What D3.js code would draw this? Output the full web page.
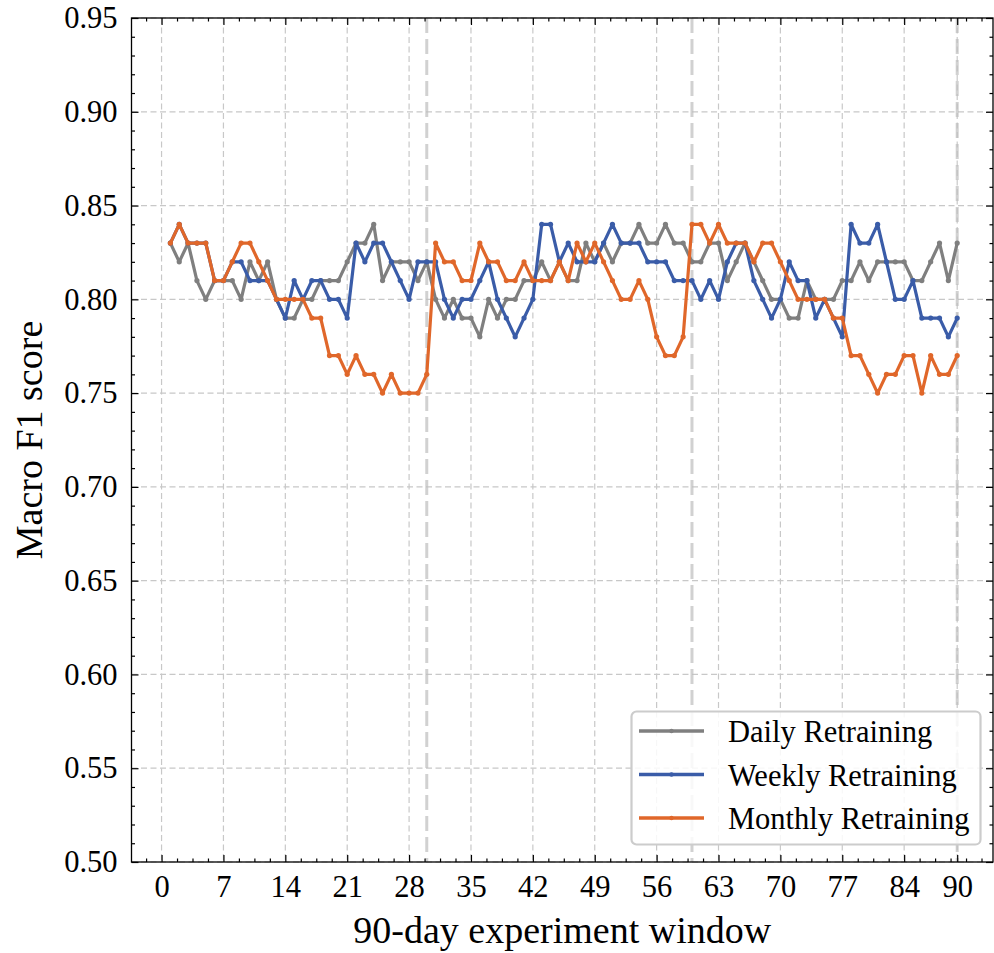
<!DOCTYPE html>
<html>
<head>
<meta charset="utf-8">
<script src="https://cdn.jsdelivr.net/npm/d3@7"></script>
<style>
  body { margin: 0; background: #fff; }
  svg { display: block; font-family: "Liberation Serif", "Times New Roman", serif; }
</style>
</head>
<body>
<div id="chart"></div>
<script>
// day index of each point
const days = d3.range(1, 91);

const dailyScores = [
  0.83, 0.82, 0.83, 0.81, 0.80, 0.81, 0.81, 0.81, 0.80, 0.82,
  0.81, 0.82, 0.80, 0.79, 0.79, 0.80, 0.80, 0.81, 0.81, 0.81,
  0.82, 0.83, 0.83, 0.84, 0.81, 0.82, 0.82, 0.82, 0.81, 0.82,
  0.80, 0.79, 0.80, 0.79, 0.79, 0.78, 0.80, 0.79, 0.80, 0.80,
  0.81, 0.81, 0.82, 0.81, 0.82, 0.81, 0.81, 0.83, 0.82, 0.83,
  0.82, 0.83, 0.83, 0.84, 0.83, 0.83, 0.84, 0.83, 0.83, 0.82,
  0.82, 0.83, 0.83, 0.81, 0.82, 0.83, 0.82, 0.81, 0.80, 0.80,
  0.79, 0.79, 0.81, 0.80, 0.80, 0.80, 0.81, 0.81, 0.82, 0.81,
  0.82, 0.82, 0.82, 0.82, 0.81, 0.81, 0.82, 0.83, 0.81, 0.83
];

const weeklyScores = [
  0.83, 0.84, 0.83, 0.83, 0.83, 0.81, 0.81, 0.82, 0.82, 0.81,
  0.81, 0.81, 0.80, 0.79, 0.81, 0.80, 0.81, 0.81, 0.80, 0.80,
  0.79, 0.83, 0.82, 0.83, 0.83, 0.82, 0.81, 0.80, 0.82, 0.82,
  0.82, 0.80, 0.79, 0.80, 0.80, 0.81, 0.82, 0.80, 0.79, 0.78,
  0.79, 0.80, 0.84, 0.84, 0.82, 0.83, 0.82, 0.82, 0.82, 0.83,
  0.84, 0.83, 0.83, 0.83, 0.82, 0.82, 0.82, 0.81, 0.81, 0.81,
  0.80, 0.81, 0.80, 0.82, 0.83, 0.83, 0.81, 0.80, 0.79, 0.80,
  0.82, 0.81, 0.81, 0.79, 0.80, 0.79, 0.78, 0.84, 0.83, 0.83,
  0.84, 0.82, 0.80, 0.80, 0.81, 0.79, 0.79, 0.79, 0.78, 0.79
];

const monthlyScores = [
  0.83, 0.84, 0.83, 0.83, 0.83, 0.81, 0.81, 0.82, 0.83, 0.83,
  0.82, 0.81, 0.80, 0.80, 0.80, 0.80, 0.79, 0.79, 0.77, 0.77,
  0.76, 0.77, 0.76, 0.76, 0.75, 0.76, 0.75, 0.75, 0.75, 0.76,
  0.83, 0.82, 0.82, 0.81, 0.81, 0.83, 0.82, 0.82, 0.81, 0.81,
  0.82, 0.81, 0.81, 0.81, 0.82, 0.81, 0.83, 0.82, 0.83, 0.82,
  0.81, 0.80, 0.80, 0.81, 0.80, 0.78, 0.77, 0.77, 0.78, 0.84,
  0.84, 0.83, 0.84, 0.83, 0.83, 0.83, 0.82, 0.83, 0.83, 0.82,
  0.81, 0.80, 0.80, 0.80, 0.80, 0.79, 0.79, 0.77, 0.77, 0.76,
  0.75, 0.76, 0.76, 0.77, 0.77, 0.75, 0.77, 0.76, 0.76, 0.77
];

const seriesNames = ["Daily Retraining", "Weekly Retraining", "Monthly Retraining"];
const seriesColors = ["#7f7f7f", "#3a5ca8", "#e0672a"];
const retrainDays = [30, 60, 90];

const xTicks = [0, 7, 14, 21, 28, 35, 42, 49, 56, 63, 70, 77, 84, 90];
const yTicks = [0.50, 0.55, 0.60, 0.65, 0.70, 0.75, 0.80, 0.85, 0.90, 0.95];

const width = 994;
const height = 953;
const plot = {left: 131.5, right: 993, top: 18, bottom: 862};

const tickFont = 30.5;
const labelFont = 38;
const lineWidth = 3.2;

const x = d3.scaleLinear()
  .domain([-3.4, 94.05])
  .range([plot.left, plot.right]);

const y = d3.scaleLinear()
  .domain([0.5, 0.95])
  .range([plot.bottom, plot.top]);

const xMinor = d3.range(-1.75, 94, 1.75).filter(v => !xTicks.some(t => Math.abs(t - v) < 1e-6));
const yMinor = d3.range(0.51, 0.95, 0.01).filter(v => !yTicks.some(t => Math.abs(t - v) < 1e-6));

const svg = d3.select("#chart")
  .append("svg")
  .attr("width", width)
  .attr("height", height);

// grid
const grid = svg.append("g");

grid.selectAll(".vgrid")
  .data(xTicks)
  .enter()
  .append("line")
  .attr("x1", d => x(d))
  .attr("x2", d => x(d))
  .attr("y1", plot.top)
  .attr("y2", plot.bottom)
  .attr("stroke", "#c8c8c8")
  .attr("stroke-width", 1.2)
  .attr("stroke-dasharray", "6,3.5");

grid.selectAll(".hgrid")
  .data(yTicks)
  .enter()
  .append("line")
  .attr("x1", plot.left)
  .attr("x2", plot.right)
  .attr("y1", d => y(d))
  .attr("y2", d => y(d))
  .attr("stroke", "#c8c8c8")
  .attr("stroke-width", 1.2)
  .attr("stroke-dasharray", "6,3.5");

// retraining markers
svg.append("g")
  .selectAll("line")
  .data(retrainDays)
  .enter()
  .append("line")
  .attr("x1", d => x(d))
  .attr("x2", d => x(d))
  .attr("y1", plot.top)
  .attr("y2", plot.bottom)
  .attr("stroke", "#bdbdbd")
  .attr("stroke-opacity", 0.7)
  .attr("stroke-width", 3)
  .attr("stroke-dasharray", "15,6");

// series
const allSeries = [dailyScores, weeklyScores, monthlyScores];

const line = d3.line()
  .x((d, i) => x(days[i]))
  .y(d => y(d));

allSeries.forEach((values, k) => {
  const g = svg.append("g");

  g.append("path")
    .datum(values)
    .attr("d", line)
    .attr("fill", "none")
    .attr("stroke", seriesColors[k])
    .attr("stroke-width", lineWidth)
    .attr("stroke-linejoin", "round");

  g.selectAll("circle")
    .data(values)
    .enter()
    .append("circle")
    .attr("cx", (d, i) => x(days[i]))
    .attr("cy", d => y(d))
    .attr("r", 2.6)
    .attr("fill", seriesColors[k]);
});

// axes, ticks pointing inward on all four sides
const styleAxis = (g, showText) => {
  g.attr("font-size", null).attr("font-family", null);
  g.select(".domain").remove();
  g.selectAll(".tick line").attr("stroke", "#000").attr("stroke-width", 1.2);
  if (showText) {
    g.selectAll(".tick text").style("font-size", `${tickFont}px`).attr("fill", "#000");
  } else {
    g.selectAll(".tick text").remove();
  }
};

svg.append("g")
  .attr("transform", `translate(0, ${plot.bottom})`)
  .call(d3.axisBottom(x).tickValues(xTicks).tickFormat(d3.format("d")).tickSize(-7).tickPadding(13))
  .call(g => styleAxis(g, true));

svg.append("g")
  .attr("transform", `translate(0, ${plot.bottom})`)
  .call(d3.axisBottom(x).tickValues(xMinor).tickSize(-3.5))
  .call(g => styleAxis(g, false));

svg.append("g")
  .attr("transform", `translate(0, ${plot.top})`)
  .call(d3.axisTop(x).tickValues(xTicks).tickSize(-7))
  .call(g => styleAxis(g, false));

svg.append("g")
  .attr("transform", `translate(0, ${plot.top})`)
  .call(d3.axisTop(x).tickValues(xMinor).tickSize(-3.5))
  .call(g => styleAxis(g, false));

svg.append("g")
  .attr("transform", `translate(${plot.left}, 0)`)
  .call(d3.axisLeft(y).tickValues(yTicks).tickFormat(d3.format(".2f")).tickSize(-7).tickPadding(14))
  .call(g => styleAxis(g, true));

svg.append("g")
  .attr("transform", `translate(${plot.left}, 0)`)
  .call(d3.axisLeft(y).tickValues(yMinor).tickSize(-3.5))
  .call(g => styleAxis(g, false));

svg.append("g")
  .attr("transform", `translate(${plot.right}, 0)`)
  .call(d3.axisRight(y).tickValues(yTicks).tickSize(-7))
  .call(g => styleAxis(g, false));

svg.append("g")
  .attr("transform", `translate(${plot.right}, 0)`)
  .call(d3.axisRight(y).tickValues(yMinor).tickSize(-3.5))
  .call(g => styleAxis(g, false));

// frame
svg.append("rect")
  .attr("x", plot.left)
  .attr("y", plot.top)
  .attr("width", plot.right - plot.left)
  .attr("height", plot.bottom - plot.top)
  .attr("fill", "none")
  .attr("stroke", "#000")
  .attr("stroke-width", 1.3);

// axis titles
svg.append("text")
  .text("90-day experiment window")
  .attr("x", (plot.left + plot.right) / 2)
  .attr("y", 943)
  .attr("text-anchor", "middle")
  .style("font-size", `${labelFont}px`);

svg.append("text")
  .text("Macro F1 score")
  .attr("transform", `translate(42, ${(plot.top + plot.bottom) / 2}) rotate(-90)`)
  .attr("text-anchor", "middle")
  .style("font-size", `${labelFont}px`);

// legend
const legend = svg.append("g")
  .attr("transform", "translate(631.5, 711.5)");

legend.append("rect")
  .attr("width", 349)
  .attr("height", 133)
  .attr("rx", 5)
  .attr("fill", "#fff")
  .attr("fill-opacity", 0.85)
  .attr("stroke", "#cccccc")
  .attr("stroke-width", 2.2);

const entry = legend.selectAll(".entry")
  .data(seriesNames)
  .enter()
  .append("g")
  .attr("transform", (d, i) => `translate(0, ${19.5 + i * 43.5})`);

entry.append("line")
  .attr("x1", 7.5)
  .attr("x2", 72.5)
  .attr("stroke", (d, i) => seriesColors[i])
  .attr("stroke-width", 3.6);

entry.append("circle")
  .attr("cx", 40)
  .attr("r", 2.2)
  .attr("fill", (d, i) => seriesColors[i]);

entry.append("text")
  .text(d => d)
  .attr("x", 96.5)
  .attr("y", 11)
  .style("font-size", `${tickFont}px`);
</script>
</body>
</html>
